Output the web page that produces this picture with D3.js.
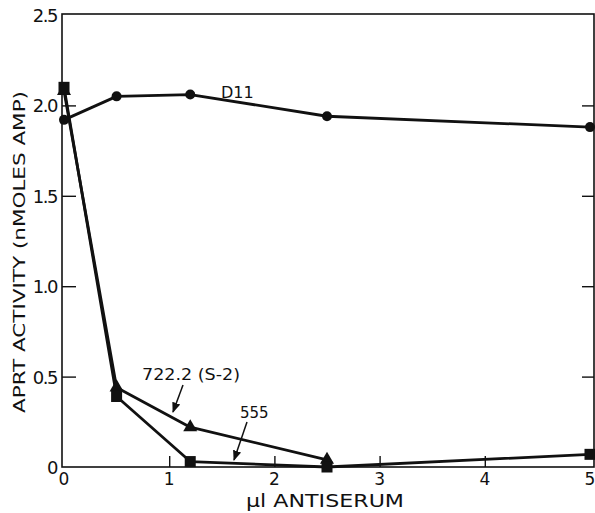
<!DOCTYPE html>
<html>
<head>
<meta charset="utf-8">
<script src="https://d3js.org/d3.v7.min.js"></script>
<style>
  body { margin: 0; background: #fff; }
  text { font-family: "DejaVu Sans", sans-serif; fill: #111; }
</style>
</head>
<body>
<div id="chart"></div>
<script>
// values
var d11X = [0, 0.5, 1.2, 2.5, 5];
var d11Y = [1.92, 2.05, 2.06, 1.94, 1.88];
var s555X = [0, 0.5, 1.2, 2.5, 5];
var s555Y = [2.1, 0.39, 0.03, 0.0, 0.07];
var s722X = [0, 0.5, 1.2, 2.5];
var s722Y = [2.08, 0.44, 0.22, 0.04];
var xTicks = [0, 1, 2, 3, 4, 5];
var yTicks = [0, 0.5, 1.0, 1.5, 2.0, 2.5];
var yTickLabels = ["0", "0.5", "1.0", "1.5", "2.0", "2.5"];

var width = 595, height = 513;
var x = d3.scaleLinear().domain([0, 5]).range([64, 590]);
var y = d3.scaleLinear().domain([0, 2.5]).range([467, 15]);

var svg = d3.select("#chart").append("svg")
    .attr("width", width)
    .attr("height", height);

// frame
svg.append("rect")
    .attr("x", 62).attr("y", 14)
    .attr("width", 594 - 62).attr("height", 467 - 14)
    .attr("fill", "none").attr("stroke", "#111").attr("stroke-width", 1.6);

// left axis, ticks pointing inward
var yAxis = d3.axisRight(y)
    .tickValues(yTicks.slice(1, 5))
    .tickSize(14)
    .tickFormat("");
svg.append("g")
    .attr("transform", "translate(62,0)")
    .call(yAxis)
    .call(function (g) { g.select(".domain").remove(); })
    .selectAll("line").attr("stroke", "#111").attr("stroke-width", 1.4);

// right axis ticks
svg.append("g")
    .attr("transform", "translate(594,0)")
    .call(d3.axisLeft(y).tickValues(yTicks.slice(1, 5)).tickSize(12).tickFormat(""))
    .call(function (g) { g.select(".domain").remove(); })
    .selectAll("line").attr("stroke", "#111").attr("stroke-width", 1.4);

// y labels
svg.selectAll(".ylab")
    .data(yTicks)
    .enter().append("text")
    .attr("class", "ylab")
    .attr("x", 57)
    .attr("y", function (d) { return y(d) + 7; })
    .attr("text-anchor", "end")
    .attr("font-size", 18)
    .attr("letter-spacing", -1.5)
    .text(function (d, i) { return yTickLabels[i]; });

// bottom axis ticks pointing up
svg.append("g")
    .attr("transform", "translate(0,467)")
    .call(d3.axisTop(x).tickValues(xTicks.slice(1, 5)).tickSize(11).tickFormat(""))
    .call(function (g) { g.select(".domain").remove(); })
    .selectAll("line").attr("stroke", "#111").attr("stroke-width", 1.4);

svg.selectAll(".xlab")
    .data(xTicks)
    .enter().append("text")
    .attr("class", "xlab")
    .attr("x", function (d) { return x(d); })
    .attr("y", 485)
    .attr("text-anchor", "middle")
    .attr("font-size", 17)
    .text(function (d) { return d; });

// axis titles
svg.append("text")
    .attr("transform", "translate(25,252) rotate(-90)")
    .attr("text-anchor", "middle")
    .attr("font-size", 16)
    .attr("textLength", 322)
    .attr("lengthAdjust", "spacingAndGlyphs")
    .text("APRT ACTIVITY (nMOLES AMP)");

svg.append("text")
    .attr("x", 325)
    .attr("y", 507)
    .attr("text-anchor", "middle")
    .attr("font-size", 17)
    .attr("textLength", 158)
    .attr("lengthAdjust", "spacingAndGlyphs")
    .text("μl ANTISERUM");

var line = d3.line()
    .x(function (d) { return x(d[0]); })
    .y(function (d) { return y(d[1]); });

function pts(xs, ys) {
    return xs.map(function (v, i) { return [v, ys[i]]; });
}

var d11 = pts(d11X, d11Y);
var s555 = pts(s555X, s555Y);
var s722 = pts(s722X, s722Y);

[s555, s722, d11].forEach(function (s) {
    svg.append("path")
        .datum(s)
        .attr("d", line)
        .attr("fill", "none")
        .attr("stroke", "#111")
        .attr("stroke-width", 2.8)
        .attr("stroke-linejoin", "round");
});

// markers
svg.selectAll(".tri")
    .data(s722)
    .enter().append("path")
    .attr("class", "tri")
    .attr("transform", function (d) { return "translate(" + x(d[0]) + "," + y(d[1]) + ")"; })
    .attr("d", d3.symbol().type(d3.symbolTriangle).size(85))
    .attr("fill", "#111");

svg.selectAll(".sq")
    .data(s555)
    .enter().append("rect")
    .attr("class", "sq")
    .attr("x", function (d) { return x(d[0]) - 5.5; })
    .attr("y", function (d) { return y(d[1]) - 5.5; })
    .attr("width", 11).attr("height", 11)
    .attr("fill", "#111");

svg.selectAll(".dot")
    .data(d11)
    .enter().append("circle")
    .attr("class", "dot")
    .attr("cx", function (d) { return x(d[0]); })
    .attr("cy", function (d) { return y(d[1]); })
    .attr("r", 5)
    .attr("fill", "#111");

// series labels
svg.append("text")
    .attr("x", 221).attr("y", 98)
    .attr("font-size", 16)
    .text("D11");

svg.append("text")
    .attr("x", 142).attr("y", 380)
    .attr("font-size", 15)
    .attr("textLength", 98)
    .attr("lengthAdjust", "spacingAndGlyphs")
    .text("722.2 (S-2)");

svg.append("text")
    .attr("x", 240).attr("y", 418)
    .attr("font-size", 15)
    .text("555");

// arrows
svg.append("defs").append("marker")
    .attr("id", "ah")
    .attr("viewBox", "0 0 10 10")
    .attr("refX", 9).attr("refY", 5)
    .attr("markerWidth", 7).attr("markerHeight", 7)
    .attr("orient", "auto")
    .append("path")
    .attr("d", "M0,1 L10,5 L0,9 Z")
    .attr("fill", "#111");

svg.append("line")
    .attr("x1", 183).attr("y1", 385)
    .attr("x2", 173).attr("y2", 412)
    .attr("stroke", "#111").attr("stroke-width", 1.5)
    .attr("marker-end", "url(#ah)");

svg.append("line")
    .attr("x1", 247).attr("y1", 422)
    .attr("x2", 234).attr("y2", 460)
    .attr("stroke", "#111").attr("stroke-width", 1.5)
    .attr("marker-end", "url(#ah)");
</script>
</body>
</html>
